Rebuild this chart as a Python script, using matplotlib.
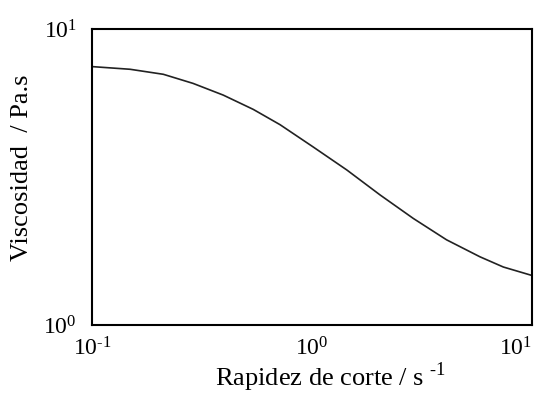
import math
import matplotlib.pyplot as plt
from matplotlib.ticker import FixedLocator, FuncFormatter, NullLocator

plt.rcParams["font.family"] = ["Liberation Serif", "DejaVu Serif"]
plt.rcParams["mathtext.fontset"] = "custom"
plt.rcParams["mathtext.rm"] = "Liberation Serif"

# shear rate (1/s) and viscosity (Pa.s)
shear_rate = [0.101, 0.149, 0.211, 0.288, 0.395, 0.541, 0.716, 1.01,
              1.44, 2.04, 2.89, 4.09, 5.8, 7.41, 10.0]
viscosity = [7.46, 7.31, 7.03, 6.55, 5.98, 5.35, 4.75, 4.0,
             3.34, 2.75, 2.29, 1.94, 1.70, 1.57, 1.47]

x_ticks = [0.1, 1, 10]
y_ticks = [1, 10]

fig = plt.figure(figsize=(5.36, 3.95), dpi=100)
ax = fig.add_axes([0.1716, 0.1772, 0.8209, 0.7494])

ax.plot(shear_rate, viscosity, color="#222222", lw=1.2)

ax.set_xscale("log")
ax.set_yscale("log")
ax.set_xlim(0.1, 10)
ax.set_ylim(1, 10)

def pow10(v, pos):
    e = int(round(math.log10(v)))
    if e < 0:
        return r"$\mathrm{10^{\text{-}%d}}$" % -e
    return r"$\mathrm{10^{%d}}$" % e

ax.xaxis.set_major_locator(FixedLocator(x_ticks))
ax.yaxis.set_major_locator(FixedLocator(y_ticks))
ax.xaxis.set_minor_locator(NullLocator())
ax.yaxis.set_minor_locator(NullLocator())
ax.xaxis.set_major_formatter(FuncFormatter(pow10))
ax.yaxis.set_major_formatter(FuncFormatter(pow10))
ax.tick_params(axis="x", length=0, pad=9, labelsize=17)
ax.tick_params(axis="y", length=0, pad=11, labelsize=17)
# keep the last x label inside the figure
ax.xaxis.get_major_ticks()[-1].label1.set_horizontalalignment("right")

for s in ax.spines.values():
    s.set_linewidth(1.5)

ax.set_xlabel(r"Rapidez de corte / s $^{\mathrm{\text{-}1}}$", fontsize=19, va="bottom")
ax.xaxis.set_label_coords(0.543, -0.232)
ax.set_ylabel("Viscosidad  / Pa.s", fontsize=19, va="center")
ax.yaxis.set_label_coords(-0.159, 0.53)

fig.savefig("out.png", dpi=100)
